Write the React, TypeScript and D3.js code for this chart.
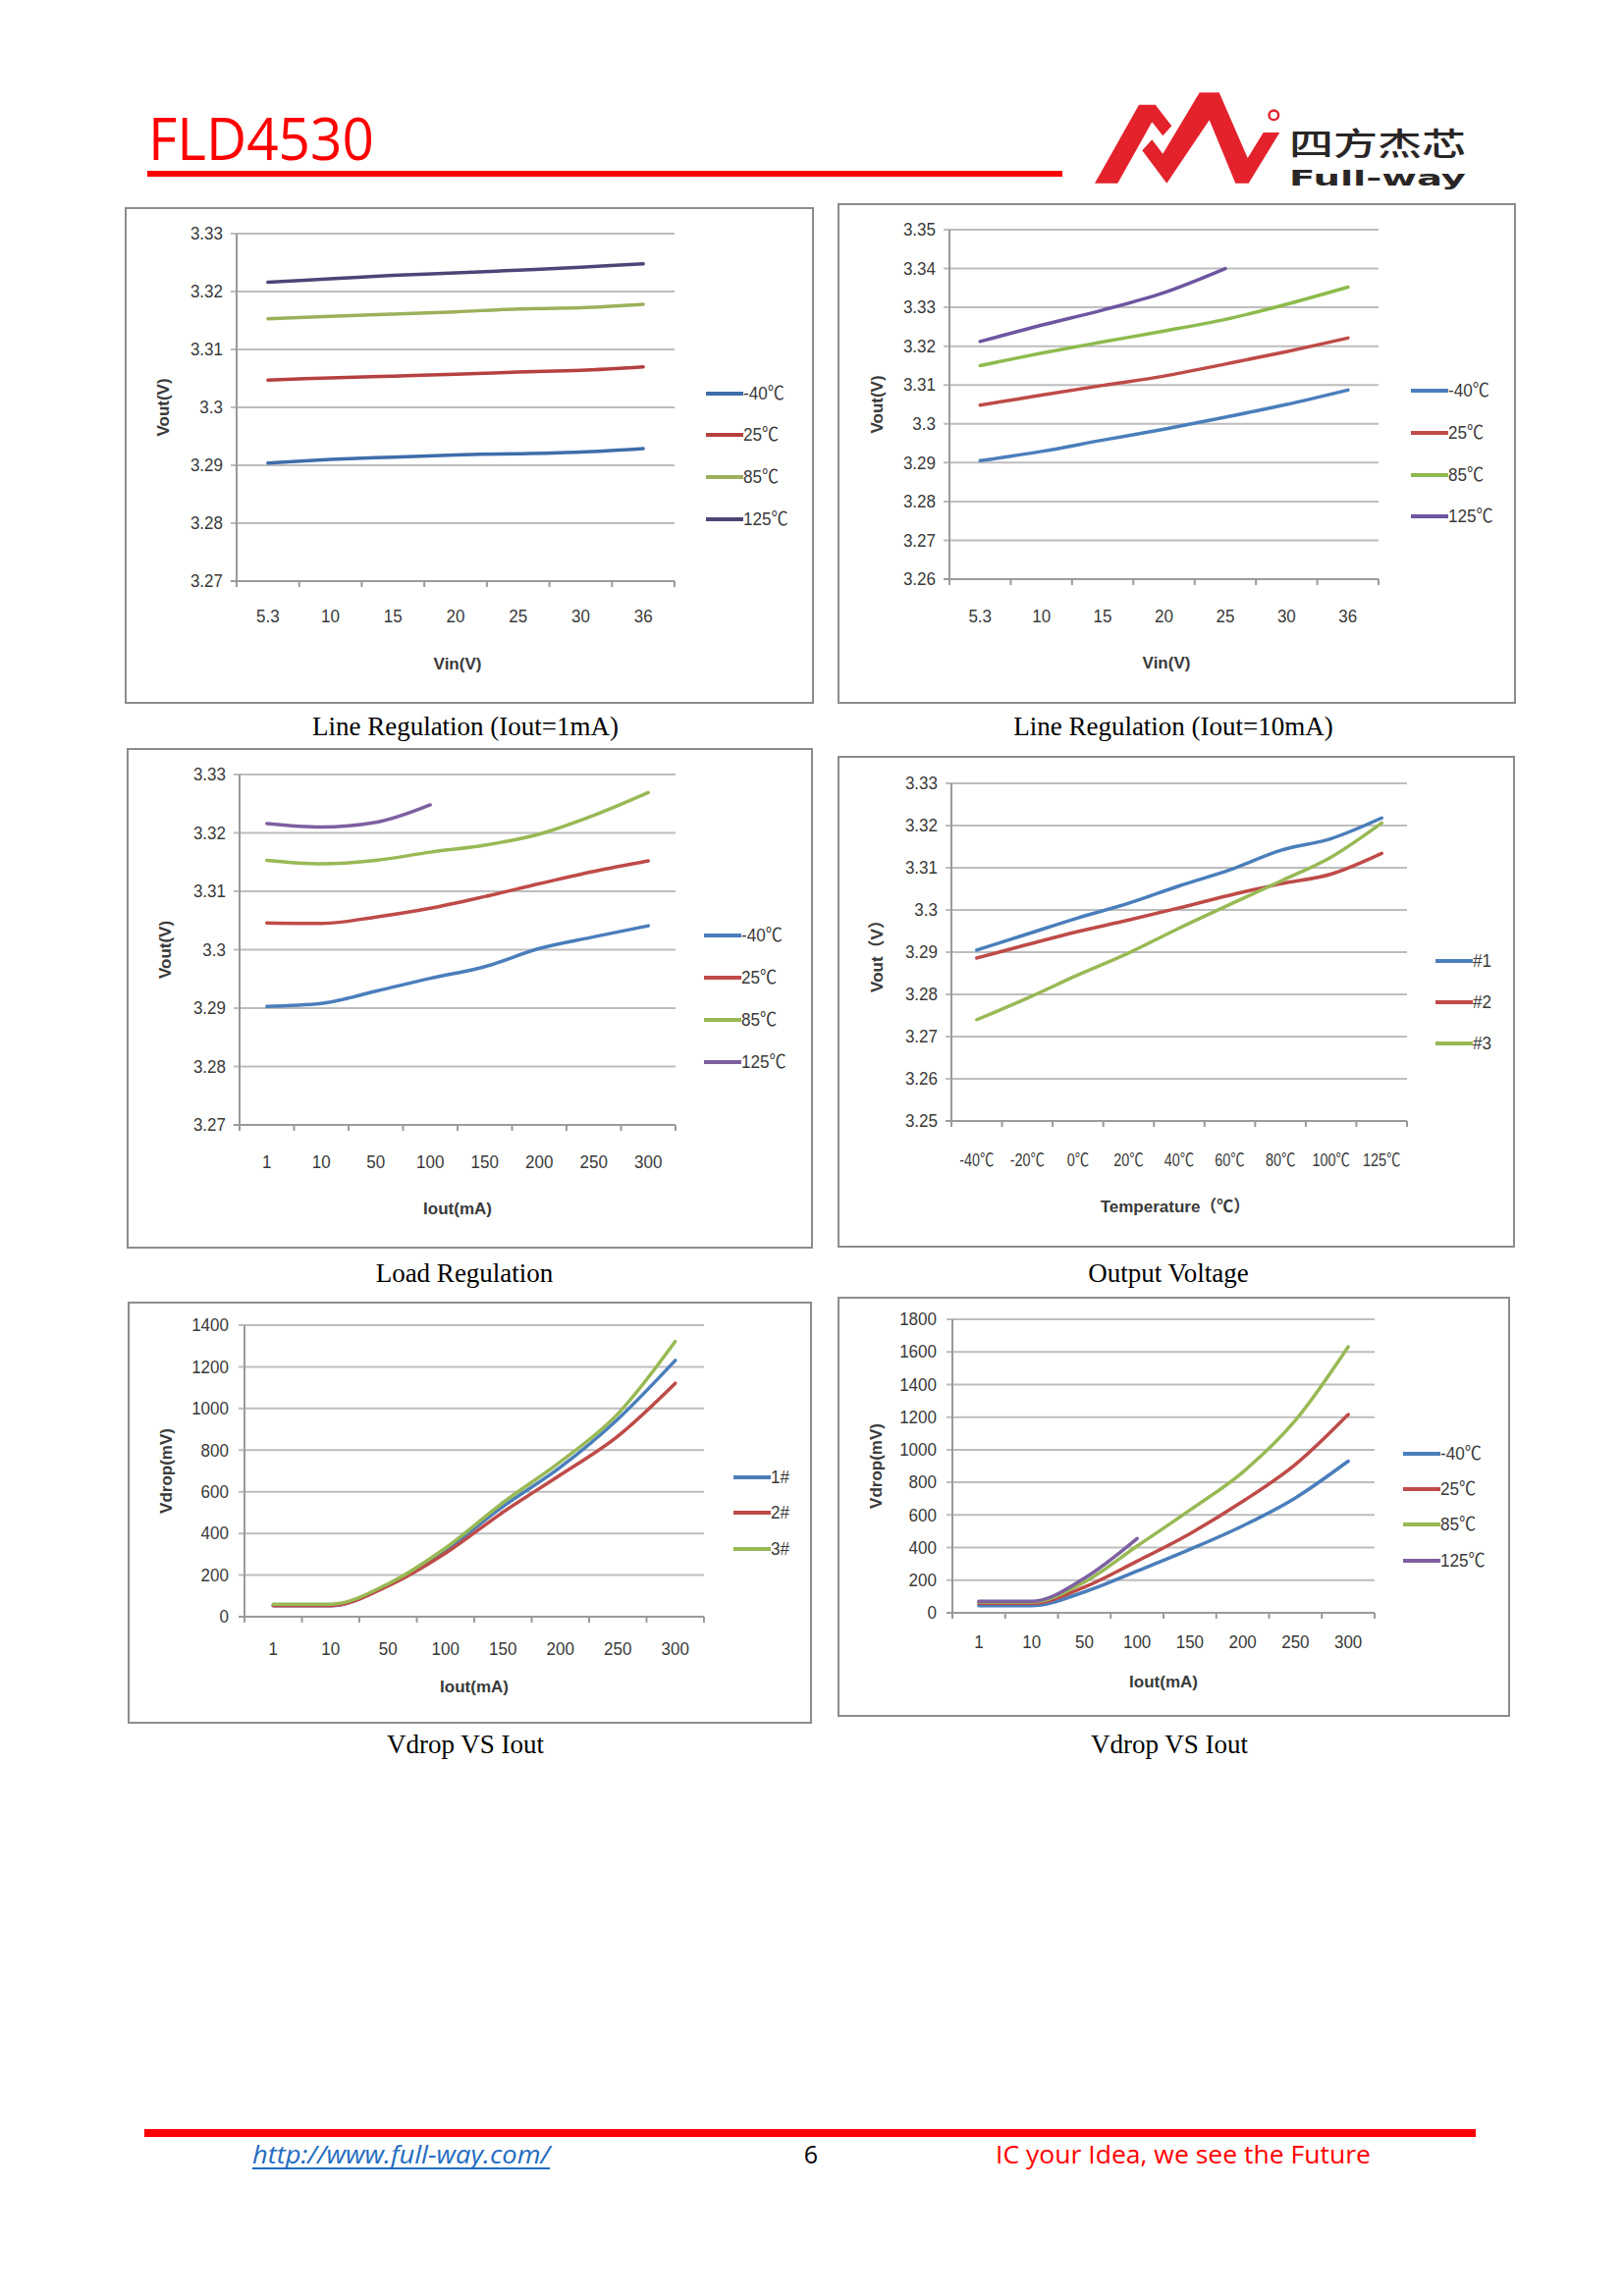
import React from "react";
import * as d3 from "d3";

// ---------- data ----------
const vinCats = ["5.3", "10", "15", "20", "25", "30", "36"];
const ioutCats = ["1", "10", "50", "100", "150", "200", "250", "300"];
const tempCats = ["-40℃", "-20℃", "0℃", "20℃", "40℃", "60℃", "80℃", "100℃", "125℃"];
const tempNames = ["-40℃", "25℃", "85℃", "125℃"];
const sampleNames = ["#1", "#2", "#3"];
const sampleNames2 = ["1#", "2#", "3#"];

// Line Regulation (Iout=1mA)
const lr1M40 = [3.2904, 3.291, 3.2914, 3.2918, 3.292, 3.2923, 3.2929];
const lr1T25 = [3.3047, 3.3051, 3.3054, 3.3057, 3.3061, 3.3064, 3.307];
const lr1T85 = [3.3153, 3.3157, 3.3161, 3.3165, 3.317, 3.3172, 3.3178];
const lr1T125 = [3.3216, 3.3222, 3.3228, 3.3232, 3.3237, 3.3242, 3.3248];

// Line Regulation (Iout=10mA)
const lr10M40 = [3.2905, 3.2929, 3.2958, 3.2986, 3.3017, 3.305, 3.3087];
const lr10T25 = [3.3048, 3.3074, 3.3099, 3.3123, 3.3154, 3.3186, 3.3221];
const lr10T85 = [3.315, 3.3182, 3.3211, 3.3239, 3.3269, 3.3308, 3.3352];
const lr10T125 = [3.3212, 3.3254, 3.3293, 3.3338, 3.34, null, null];

// Load Regulation
const ldM40 = [3.2903, 3.2908, 3.2929, 3.2951, 3.2971, 3.3002, 3.3022, 3.3041];
const ldT25 = [3.3046, 3.3045, 3.3056, 3.3071, 3.3091, 3.3113, 3.3134, 3.3152];
const ldT85 = [3.3153, 3.3147, 3.3153, 3.3167, 3.3179, 3.3198, 3.323, 3.3269];
const ldT125 = [3.3216, 3.321, 3.3218, 3.3248, null, null, null, null];

// Output Voltage vs Temperature
const ovS1 = [3.2905, 3.2943, 3.2981, 3.3016, 3.3057, 3.3095, 3.3141, 3.3169, 3.3218];
const ovS2 = [3.2886, 3.2918, 3.2949, 3.2976, 3.3005, 3.3035, 3.3062, 3.3085, 3.3134];
const ovS3 = [3.274, 3.2791, 3.2846, 3.2898, 3.2957, 3.3013, 3.3068, 3.3125, 3.3206];

// Vdrop VS Iout (samples)
const vdS1 = [53, 53, 152, 320, 529, 718, 949, 1231];
const vdS2 = [53, 53, 148, 305, 502, 681, 867, 1121];
const vdS3 = [60, 60, 158, 330, 548, 744, 974, 1322];

// Vdrop VS Iout (temperatures)
const vdM40 = [44, 44, 128, 256, 389, 533, 705, 930];
const vdT25 = [58, 58, 158, 317, 485, 683, 910, 1216];
const vdT85 = [66, 66, 188, 409, 630, 862, 1180, 1631];
const vdT125 = [70, 70, 212, 455, null, null, null, null];

// ---------- styling ----------
const BLUE = "#4A7EBB";
const RED = "#BE4B48";
const GREEN = "#98B954";
const PURPLE = "#7D60A0";
const SANS = "'Liberation Sans', Arial, 'Noto Sans CJK SC', sans-serif";
const SERIF = "'Liberation Serif', 'Times New Roman', serif";
const TEXT = "#3a3a3a";

type Series = { name: string; values: (number | null)[]; color: string };
type Cfg = {
  box: [number, number, number, number];
  plot: [number, number, number, number];
  cats: string[];
  yDomain: [number, number];
  yStep: number;
  series: Series[];
  legendX: number;
  legendY: number[];
  xLabelY: number;
  xTitle: string;
  xTitlePos: [number, number];
  yTitle: string;
  yTitleX: number;
  caption: string;
  captionPos: [number, number];
  curve: d3.CurveFactory;
  catScale?: number;
  yLabelGap?: number;
};

function Chart({ c }: { c: Cfg }) {
  const [bx0, by0, bx1, by1] = c.box;
  const [pl, pt, pr, pb] = c.plot;
  const x = d3.scaleBand<string>().domain(c.cats).range([pl, pr]).paddingInner(0).paddingOuter(0);
  const y = d3.scaleLinear().domain(c.yDomain).range([pb, pt]);
  const n = Math.round((c.yDomain[1] - c.yDomain[0]) / c.yStep);
  const yTicks = d3.range(n + 1).map((i) => +(c.yDomain[0] + i * c.yStep).toFixed(4));
  const bw = x.bandwidth();
  const bounds = d3.range(c.cats.length + 1).map((i) => pl + i * bw);
  const gap = c.yLabelGap ?? 14;
  const cs = c.catScale ?? 0.92;
  const line = d3
    .line<number | null>()
    .defined((d) => d !== null)
    .x((_, i) => (x(c.cats[i]) as number) + bw / 2)
    .y((d) => y(d as number))
    .curve(c.curve);
  return (
    <g>
      <rect x={bx0} y={by0} width={bx1 - bx0} height={by1 - by0} fill="#fff" stroke="#8c8c8c" strokeWidth={2} />
      {yTicks.map((t) => (
        <g key={"g" + t}>
          <line x1={pl - 6} x2={pr} y1={y(t)} y2={y(t)} stroke={t === c.yDomain[0] ? "#9a9a9a" : "#bdbdbd"} strokeWidth={2} />
          <g transform={`translate(${pl - gap},${y(t)}) scale(0.92,1)`}>
            <text x={0} y={0} textAnchor="end" dominantBaseline="central" fontFamily={SANS} fontSize={18.5} fill={TEXT}>
              {String(t)}
            </text>
          </g>
        </g>
      ))}
      <line x1={pl} x2={pl} y1={pt} y2={pb + 6} stroke="#9a9a9a" strokeWidth={2} />
      {bounds.map((bxv, i) => (
        <line key={"b" + i} x1={bxv} x2={bxv} y1={pb} y2={pb + 6} stroke="#9a9a9a" strokeWidth={2} />
      ))}
      {c.cats.map((cat) => (
        <g key={"c" + cat} transform={`translate(${(x(cat) as number) + bw / 2},${c.xLabelY}) scale(${cs},1)`}>
          <text x={0} y={0} textAnchor="middle" dominantBaseline="central" fontFamily={SANS} fontSize={18.5} fill={TEXT}>
            {cat}
          </text>
        </g>
      ))}
      {c.series.map((s) => (
        <path key={"s" + s.name} d={line(s.values) || ""} fill="none" stroke={s.color} strokeWidth={3.5} strokeLinejoin="round" strokeLinecap="round" />
      ))}
      {c.series.map((s, i) => (
        <g key={"l" + s.name}>
          <line x1={c.legendX} x2={c.legendX + 38} y1={c.legendY[i]} y2={c.legendY[i]} stroke={s.color} strokeWidth={4} />
          <g transform={`translate(${c.legendX + 38},${c.legendY[i]}) scale(0.9,1)`}>
            <text x={0} y={0} dominantBaseline="central" fontFamily={SANS} fontSize={19} fill={TEXT}>
              {s.name}
            </text>
          </g>
        </g>
      ))}
      <text x={c.xTitlePos[0]} y={c.xTitlePos[1]} textAnchor="middle" dominantBaseline="central" fontFamily={SANS} fontWeight="bold" fontSize={17} fill={TEXT}>
        {c.xTitle}
      </text>
      <text
        transform={`translate(${c.yTitleX},${(pt + pb) / 2}) rotate(-90)`}
        textAnchor="middle"
        dominantBaseline="central"
        fontFamily={SANS}
        fontWeight="bold"
        fontSize={17}
        fill={TEXT}
      >
        {c.yTitle}
      </text>
      <text x={c.captionPos[0]} y={c.captionPos[1]} textAnchor="middle" dominantBaseline="central" fontFamily={SERIF} fontSize={27} fill="#000">
        {c.caption}
      </text>
    </g>
  );
}

const smooth = d3.curveCatmullRom.alpha(0.5);

const charts: Cfg[] = [
  {
    box: [128, 212, 828, 716],
    plot: [241, 238, 687, 592],
    cats: vinCats,
    yDomain: [3.27, 3.33],
    yStep: 0.01,
    series: [
      { name: tempNames[0], values: lr1M40, color: "#3F6DAA" },
      { name: tempNames[1], values: lr1T25, color: "#B5403F" },
      { name: tempNames[2], values: lr1T85, color: "#9CB05A" },
      { name: tempNames[3], values: lr1T125, color: "#4B4677" },
    ],
    legendX: 719,
    legendY: [401, 443, 486, 529],
    xLabelY: 628,
    xTitle: "Vin(V)",
    xTitlePos: [466, 676],
    yTitle: "Vout(V)",
    yTitleX: 166,
    caption: "Line Regulation (Iout=1mA)",
    captionPos: [474, 740],
    curve: smooth,
  },
  {
    box: [854, 208, 1543, 716],
    plot: [967, 234, 1404, 590],
    cats: vinCats,
    yDomain: [3.26, 3.35],
    yStep: 0.01,
    series: [
      { name: tempNames[0], values: lr10M40, color: BLUE },
      { name: tempNames[1], values: lr10T25, color: RED },
      { name: tempNames[2], values: lr10T85, color: "#8DBB4C" },
      { name: tempNames[3], values: lr10T125, color: "#6E55A0" },
    ],
    legendX: 1437,
    legendY: [398, 441, 484, 526],
    xLabelY: 628,
    xTitle: "Vin(V)",
    xTitlePos: [1188, 675],
    yTitle: "Vout(V)",
    yTitleX: 893,
    caption: "Line Regulation (Iout=10mA)",
    captionPos: [1195, 740],
    curve: smooth,
  },
  {
    box: [130, 763, 827, 1271],
    plot: [244, 789, 688, 1146],
    cats: ioutCats,
    yDomain: [3.27, 3.33],
    yStep: 0.01,
    series: [
      { name: tempNames[0], values: ldM40, color: BLUE },
      { name: tempNames[1], values: ldT25, color: RED },
      { name: tempNames[2], values: ldT85, color: GREEN },
      { name: tempNames[3], values: ldT125, color: PURPLE },
    ],
    legendX: 717,
    legendY: [953, 996, 1039, 1082],
    xLabelY: 1184,
    xTitle: "Iout(mA)",
    xTitlePos: [466, 1231],
    yTitle: "Vout(V)",
    yTitleX: 168,
    caption: "Load Regulation",
    captionPos: [473, 1297],
    curve: d3.curveMonotoneX,
  },
  {
    box: [854, 771, 1542, 1270],
    plot: [969, 798, 1433, 1142],
    cats: tempCats,
    yDomain: [3.25, 3.33],
    yStep: 0.01,
    series: [
      { name: sampleNames[0], values: ovS1, color: BLUE },
      { name: sampleNames[1], values: ovS2, color: RED },
      { name: sampleNames[2], values: ovS3, color: GREEN },
    ],
    legendX: 1462,
    legendY: [979, 1021, 1063],
    xLabelY: 1182,
    xTitle: "Temperature（℃）",
    xTitlePos: [1197, 1229],
    yTitle: "Vout（V）",
    yTitleX: 893,
    caption: "Output Voltage",
    captionPos: [1190, 1297],
    curve: d3.curveMonotoneX,
    catScale: 0.78,
  },
  {
    box: [131, 1327, 826, 1755],
    plot: [249, 1350, 717, 1647],
    cats: ioutCats,
    yDomain: [0, 1400],
    yStep: 200,
    series: [
      { name: sampleNames2[0], values: vdS1, color: BLUE },
      { name: sampleNames2[1], values: vdS2, color: RED },
      { name: sampleNames2[2], values: vdS3, color: GREEN },
    ],
    legendX: 747,
    legendY: [1505, 1541, 1578],
    xLabelY: 1680,
    xTitle: "Iout(mA)",
    xTitlePos: [483, 1718],
    yTitle: "Vdrop(mV)",
    yTitleX: 169,
    caption: "Vdrop VS Iout",
    captionPos: [474, 1777],
    curve: d3.curveMonotoneX,
    yLabelGap: 16,
  },
  {
    box: [854, 1322, 1537, 1748],
    plot: [970, 1344, 1400, 1643],
    cats: ioutCats,
    yDomain: [0, 1800],
    yStep: 200,
    series: [
      { name: tempNames[0], values: vdM40, color: BLUE },
      { name: tempNames[1], values: vdT25, color: RED },
      { name: tempNames[2], values: vdT85, color: GREEN },
      { name: tempNames[3], values: vdT125, color: PURPLE },
    ],
    legendX: 1429,
    legendY: [1481, 1517, 1553, 1590],
    xLabelY: 1673,
    xTitle: "Iout(mA)",
    xTitlePos: [1185, 1713],
    yTitle: "Vdrop(mV)",
    yTitleX: 892,
    caption: "Vdrop VS Iout",
    captionPos: [1191, 1777],
    curve: d3.curveMonotoneX,
    yLabelGap: 16,
  },
];

const LOGO_RED = "#E3222C";
const logoA: [number, number][] = [
  [1115, 186.7], [1160, 106.7], [1176.7, 106.7], [1193.3, 128.3], [1184.3, 138.3], [1173.3, 124.3], [1138.3, 186.7],
];
const logoB: [number, number][] = [
  [1163.3, 153.3], [1173.3, 142.3], [1184.3, 156.7], [1221.7, 94.3], [1241.7, 94.3], [1270.7, 161], [1286.7, 135],
  [1303.3, 135], [1271.7, 186.7], [1258.3, 186.7], [1231.7, 122.3], [1188.3, 186.7],
];

export default function App() {
  const poly = (pts: [number, number][]) => "M" + pts.map((p) => p.join(",")).join("L") + "Z";
  return (
    <div style={{ position: "absolute", left: 0, top: 0, width: 1654, height: 2339, background: "#fff" }}>
      <svg width={1654} height={2339} viewBox="0 0 1654 2339" style={{ display: "block" }}>
        <rect x={0} y={0} width={1654} height={2339} fill="#fff" />
        {/* header */}
        <text x={151} y={163} fontFamily="'Open Sans', sans-serif" fontSize={60} fill="#FF0000" textLength={230} lengthAdjust="spacingAndGlyphs">
          FLD4530
        </text>
        <rect x={150} y={174} width={932} height={6} fill="#FF0000" />
        <path d={poly(logoA)} fill={LOGO_RED} />
        <path d={poly(logoB)} fill={LOGO_RED} />
        <circle cx={1297.3} cy={117.3} r={4.8} fill="none" stroke={LOGO_RED} strokeWidth={2.4} />
        <text x={1313} y={158} fontFamily="'Noto Sans CJK SC', sans-serif" fontWeight={500} fontSize={32} fill="#2a2626" textLength={180} lengthAdjust="spacingAndGlyphs">
          四方杰芯
        </text>
        <text x={1313} y={189} fontFamily="'DejaVu Sans', sans-serif" fontWeight="bold" fontSize={21} fill="#2a2626" textLength={180} lengthAdjust="spacingAndGlyphs">
          Full-way
        </text>

        {charts.map((c, i) => (
          <Chart key={i} c={c} />
        ))}

        {/* footer */}
        <rect x={147} y={2169} width={1356} height={8} fill="#FF0000" />
        <text x={257} y={2204} fontFamily="'Open Sans', sans-serif" fontStyle="italic" fontSize={25} fill="#1F6CC0" textLength={303} lengthAdjust="spacingAndGlyphs">
          http://www.full-way.com/
        </text>
        <rect x={257} y={2208} width={303} height={2} fill="#1F6CC0" />
        <text x={826} y={2204} textAnchor="middle" fontFamily="'Open Sans', sans-serif" fontSize={25} fill="#000">
          6
        </text>
        <text x={1014} y={2204} fontFamily="'Open Sans', sans-serif" fontSize={25} fill="#FF0000" textLength={382} lengthAdjust="spacingAndGlyphs">
          IC your Idea, we see the Future
        </text>
      </svg>
    </div>
  );
}
